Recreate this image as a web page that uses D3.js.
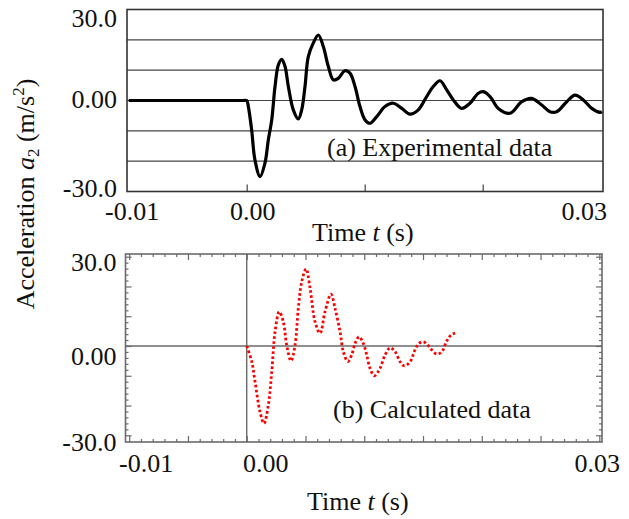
<!DOCTYPE html>
<html lang="en">
<head>
    <meta charset="UTF-8">
    <title>Acceleration a2 - experimental vs calculated</title>
    <style>
        body { margin: 0; background: #fff; }
        svg text {
            font-family: "Liberation Serif", "Times New Roman", serif;
            fill: #111;
        }
        .lbl { font-size: 26px; }
        .domain { display: none; }
    </style>
</head>
<body>
    <svg width="629" height="519"></svg>

    <script src="https://cdnjs.cloudflare.com/ajax/libs/d3/7.8.5/d3.min.js"></script>
    <script>

        // Experimental data (panel a): time in ms, acceleration in m/s^2
        const expTime = [-10, -0.3, 0, 0.14, 0.42, 0.70, 1.13, 1.55, 1.83, 2.12, 2.40, 2.68, 2.97, 3.25, 3.53,
            3.95, 4.37, 4.66, 4.94, 5.22, 5.64, 6.07, 6.49, 6.92, 7.34, 7.76, 8.33, 8.75, 9.18, 9.60,
            10.03, 10.45, 11.02, 11.72, 12.42, 13.14, 13.84, 14.54, 15.25, 15.81, 16.38, 16.95, 17.51,
            18.22, 18.92, 19.63, 20.05, 20.62, 21.32, 22.31, 23.31, 24.15, 25.00, 25.70, 26.27, 27.12,
            27.82, 28.53, 29.24, 29.94, 30.1];
        const expAcc = [0, 0, 0, -2.0, -9.7, -19.6, -25.1, -20.6, -13.0, -6.4, 4.6, 11.7, 13.6, 11.2, 4.6,
            -3.1, -6.1, -3.1, 4.6, 14.5, 18.9, 21.6, 17.8, 11.2, 6.8, 7.3, 9.8, 9.0, 4.6, -2.0,
            -6.4, -7.5, -5.3, -2.0, -0.9, -2.6, -4.5, -3.1, 1.3, 4.6, 6.5, 3.5, 0.2,
            -2.6, -0.9, 2.4, 2.9, 1.3, -2.6, -4.2, -0.4, 0.7, -1.5, -3.7, -3.7, -0.4,
            1.8, 0.2, -2.6, -3.9, -3.7];

        // Calculated data (panel b)
        const calcTime = [0, 0.43, 0.71, 1.13, 1.47, 1.84, 2.13, 2.41, 2.77, 3.11, 3.40, 3.77, 4.11,
            4.39, 4.68, 5.05, 5.39, 5.81, 6.24, 6.66, 7.17, 7.51, 7.94, 8.22, 8.60, 8.93, 9.22, 9.56,
            9.92, 10.21, 10.49, 10.86, 11.34, 11.77, 12.20, 12.62, 13.05, 13.41, 13.90, 14.32, 14.66,
            15.03, 15.40, 15.74, 16.17, 16.60, 17.02, 17.39, 17.73];
        const calcAcc = [0, -5.3, -12.0, -22.1, -26.0, -19.8, -8.6, 4.8, 11.5, 8.2, 0.3, -5.0, 0.3,
            12.7, 21.6, 25.9, 19.4, 8.2, 4.3, 11.5, 17.4, 12.7, 4.8, -1.9, -5.2, -3.0, 0.9, 3.1,
            0.9, -3.0, -7.5, -10.0, -7.5, -3.0, -0.6, -1.9, -5.3, -6.7, -5.3, -1.3, 0.9,
            1.4, 0.3, -1.3, -2.7, -1.9, 1.7, 3.7, 4.3];

        // Tick labels
        const xTickValues = [-0.01, 0.00, 0.03];
        const xTickLabels = ['-0.01', '0.00', '0.03'];
        const yTickValues = [30, 0, -30];
        const yTickLabels = ['30.0', '0.00', '-30.0'];
        const gridValues = [-20, -10, 0, 10, 20];

        const toSeries = (ts, vs) => ts.map((t, i) => ({ t: t / 1000, v: vs[i] }));
        const expData = toSeries(expTime, expAcc);
        const calcData = toSeries(calcTime, calcAcc);

        const svg = d3.select('svg');

        // ---------- panel (a) ----------
        const frameA = { x0: 127, x1: 603, y0: 9.5, y1: 191.5 };
        const xA = d3.scaleLinear().domain([-0.01, 0.03]).range([128.7, 600.7]);
        const yA = d3.scaleLinear().domain([-30, 30]).range([frameA.y1, frameA.y0]);

        const gA = svg.append('g');

        gA.selectAll('line.grid')
            .data(gridValues)
            .enter()
            .append('line')
            .attr('class', 'grid')
            .attr('x1', frameA.x0).attr('x2', frameA.x1)
            .attr('y1', d => yA(d)).attr('y2', d => yA(d))
            .attr('stroke', '#444')
            .attr('stroke-width', 1.2);

        gA.append('g')
            .attr('transform', 'translate(0,' + frameA.y1 + ')')
            .call(d3.axisBottom(xA).tickValues([0, 0.01, 0.02]).tickSize(-7).tickFormat(''))
            .selectAll('line').attr('stroke', '#444').attr('stroke-width', 1.2);

        gA.append('rect')
            .attr('x', frameA.x0).attr('y', frameA.y0)
            .attr('width', frameA.x1 - frameA.x0).attr('height', frameA.y1 - frameA.y0)
            .attr('fill', 'none')
            .attr('stroke', '#333')
            .attr('stroke-width', 1.6);

        const lineA = d3.line()
            .x(d => xA(d.t))
            .y(d => yA(d.v))
            .curve(d3.curveCatmullRom.alpha(0.5));

        gA.append('path')
            .datum(expData)
            .attr('d', lineA)
            .attr('fill', 'none')
            .attr('stroke', '#000')
            .attr('stroke-width', 3.2)
            .attr('stroke-linejoin', 'round');

        // tick labels (a)
        const xOffA = [3.5, 6, -16.5];
        gA.selectAll('text.xt')
            .data(xTickValues)
            .enter()
            .append('text')
            .attr('class', 'lbl xt')
            .attr('x', (d, i) => xA(d) + xOffA[i])
            .attr('y', 220)
            .attr('text-anchor', 'middle')
            .text((d, i) => xTickLabels[i]);

        const yOffA = [8.5, -1.5, -3.5];
        gA.selectAll('text.yt')
            .data(yTickValues)
            .enter()
            .append('text')
            .attr('class', 'lbl yt')
            .attr('x', 117)
            .attr('y', (d, i) => yA(d) + yOffA[i])
            .attr('dy', '0.33em')
            .attr('text-anchor', 'end')
            .text((d, i) => yTickLabels[i]);

        const timeLabel = (g, x, y) => {
            const t = g.append('text').attr('class', 'lbl').attr('x', x).attr('y', y);
            t.append('tspan').text('Time ');
            t.append('tspan').attr('font-style', 'italic').text('t');
            t.append('tspan').text(' (s)');
        };
        timeLabel(gA, 312, 241);

        gA.append('text')
            .attr('class', 'lbl')
            .attr('x', 327).attr('y', 156)
            .text('(a) Experimental data');

        // ---------- panel (b) ----------
        const frameB = { x0: 125.5, x1: 602, y0: 254, y1: 442 };
        const xB = d3.scaleLinear().domain([-0.01, 0.03]).range([129.2, 599.3]);
        const yB = d3.scaleLinear().domain([-30, 30]).range([435.3, 256.7]);

        const gB = svg.append('g');
        const grey = '#6a6a6a';

        const xMinor = d3.range(-10, 31).map(i => i / 1000);
        const yMinor = d3.range(-30, 31, 2);
        const isMajorX = d => Math.round(d * 1000) % 5 === 0;
        const isMajorY = d => d % 10 === 0;

        const tickAxis = (axisFn, scale, values, size, pos) => {
            gB.append('g')
                .attr('transform', pos)
                .call(axisFn(scale).tickValues(values).tickSize(-size).tickFormat(''))
                .selectAll('line').attr('stroke', grey).attr('stroke-width', 1.2);
        };

        [[3, xMinor.filter(d => !isMajorX(d))], [6, xMinor.filter(isMajorX)]].forEach(([s, vals]) => {
            tickAxis(d3.axisBottom, xB, vals, s, 'translate(0,' + frameB.y1 + ')');
            tickAxis(d3.axisTop, xB, vals, s, 'translate(0,' + frameB.y0 + ')');
        });
        [[3, yMinor.filter(d => !isMajorY(d))], [6, yMinor.filter(isMajorY)]].forEach(([s, vals]) => {
            tickAxis(d3.axisLeft, yB, vals, s, 'translate(' + frameB.x0 + ',0)');
            tickAxis(d3.axisRight, yB, vals, s, 'translate(' + frameB.x1 + ',0)');
        });

        // zero lines
        gB.append('line')
            .attr('x1', frameB.x0).attr('x2', frameB.x1)
            .attr('y1', yB(0)).attr('y2', yB(0))
            .attr('stroke', grey).attr('stroke-width', 1.4);
        gB.append('line')
            .attr('x1', xB(0)).attr('x2', xB(0))
            .attr('y1', frameB.y0).attr('y2', frameB.y1)
            .attr('stroke', grey).attr('stroke-width', 1.4);

        gB.append('rect')
            .attr('x', frameB.x0).attr('y', frameB.y0)
            .attr('width', frameB.x1 - frameB.x0).attr('height', frameB.y1 - frameB.y0)
            .attr('fill', 'none')
            .attr('stroke', grey)
            .attr('stroke-width', 1.6);

        const lineB = d3.line()
            .x(d => xB(d.t))
            .y(d => yB(d.v))
            .curve(d3.curveCatmullRom.alpha(0.5));

        gB.append('path')
            .datum(calcData)
            .attr('d', lineB)
            .attr('fill', 'none')
            .attr('stroke', '#ff0000')
            .attr('stroke-width', 2.8)
            .attr('stroke-dasharray', '2.6 2.4');

        const xOffB = [17, 19, -2];
        gB.selectAll('text.xt')
            .data(xTickValues)
            .enter()
            .append('text')
            .attr('class', 'lbl xt')
            .attr('x', (d, i) => xB(d) + xOffB[i])
            .attr('y', 472)
            .attr('text-anchor', 'middle')
            .text((d, i) => xTickLabels[i]);

        const yOffB = [6, 10, 7];
        gB.selectAll('text.yt')
            .data(yTickValues)
            .enter()
            .append('text')
            .attr('class', 'lbl yt')
            .attr('x', 116.5)
            .attr('y', (d, i) => yB(d) + yOffB[i])
            .attr('dy', '0.33em')
            .attr('text-anchor', 'end')
            .text((d, i) => yTickLabels[i]);

        timeLabel(gB, 307, 510);

        gB.append('text')
            .attr('class', 'lbl')
            .attr('x', 333).attr('y', 418)
            .text('(b) Calculated data');

        // shared y-axis label
        const yl = svg.append('text')
            .attr('class', 'lbl')
            .attr('transform', 'translate(34,194) rotate(-90)')
            .attr('text-anchor', 'middle');
        yl.append('tspan').text('Acceleration ');
        yl.append('tspan').attr('font-style', 'italic').text('a');
        yl.append('tspan').attr('font-size', '17px').attr('dy', 5).text('2');
        yl.append('tspan').attr('dy', -5).text(' (m/s');
        yl.append('tspan').attr('font-size', '17px').attr('dy', -10).text('2');
        yl.append('tspan').attr('dy', 10).text(')');

    </script>
</body>
</html>
